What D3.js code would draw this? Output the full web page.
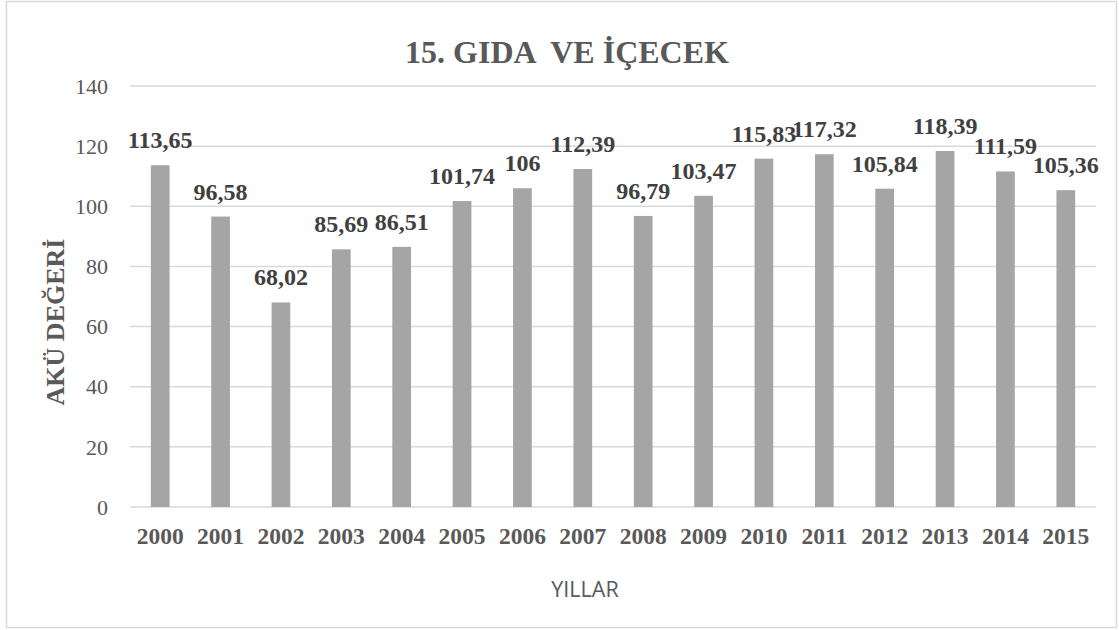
<!DOCTYPE html>
<html>
<head>
<meta charset="utf-8">
<script src="https://cdn.jsdelivr.net/npm/d3@7"></script>
<style>
  body { margin: 0; background: #fff; }
  text { font-family: "Liberation Serif", "Times New Roman", serif; }
</style>
</head>
<body>
<div id="chart"></div>
<script>
// data
var years = ["2000", "2001", "2002", "2003", "2004", "2005", "2006", "2007",
             "2008", "2009", "2010", "2011", "2012", "2013", "2014", "2015"];
var values = [113.65, 96.58, 68.02, 85.69, 86.51, 101.74, 106, 112.39,
              96.79, 103.47, 115.83, 117.32, 105.84, 118.39, 111.59, 105.36];
var yTicks = [0, 20, 40, 60, 80, 100, 120, 140];

var width = 1119, height = 630;
var margin = { top: 86, right: 23, bottom: 123, left: 130 };

var svg = d3.select("#chart")
  .append("svg")
    .attr("width", width)
    .attr("height", height);

// outer border
svg.append("rect")
  .attr("x", 6.5).attr("y", 1.5)
  .attr("width", 1110).attr("height", 626)
  .attr("fill", "#fff")
  .attr("stroke", "#d9d9d9")
  .attr("stroke-width", 1.5);

var x = d3.scaleBand()
  .domain(years)
  .range([margin.left, width - margin.right])
  .paddingInner(0.69)
  .paddingOuter(0.345);

var y = d3.scaleLinear()
  .domain([0, 140])
  .range([height - margin.bottom, margin.top]);

// gridlines
svg.append("g")
  .selectAll("line")
  .data(yTicks)
  .join("line")
    .attr("x1", margin.left)
    .attr("x2", width - margin.right)
    .attr("y1", d => y(d))
    .attr("y2", d => y(d))
    .attr("stroke", "#d9d9d9")
    .attr("stroke-width", 1.5);

// y tick labels
svg.append("g")
  .selectAll("text")
  .data(yTicks)
  .join("text")
    .attr("x", 108)
    .attr("y", d => y(d))
    .attr("dy", "0.35em")
    .attr("text-anchor", "end")
    .attr("font-size", 22)
    .attr("fill", "#595959")
    .text(d => d);

// bars
svg.append("g")
  .selectAll("rect")
  .data(values)
  .join("rect")
    .attr("x", (d, i) => x(years[i]))
    .attr("y", d => y(d))
    .attr("width", x.bandwidth())
    .attr("height", d => y(0) - y(d))
    .attr("fill", "#a5a5a5");

// value labels
svg.append("g")
  .selectAll("text")
  .data(values)
  .join("text")
    .attr("x", (d, i) => x(years[i]) + x.bandwidth() / 2)
    .attr("y", d => y(d) - 17)
    .attr("text-anchor", "middle")
    .attr("font-size", 24)
    .attr("font-weight", "bold")
    .attr("fill", "#404040")
    .text(d => String(d).replace(".", ","));

// x labels
svg.append("g")
  .selectAll("text")
  .data(years)
  .join("text")
    .attr("x", d => x(d) + x.bandwidth() / 2)
    .attr("y", 544)
    .attr("text-anchor", "middle")
    .attr("font-size", 23.5)
    .attr("font-weight", "bold")
    .attr("fill", "#595959")
    .text(d => d);

// title
svg.append("text")
  .attr("x", 567)
  .attr("y", 63)
  .attr("text-anchor", "middle")
  .attr("font-size", 32)
  .attr("font-weight", "bold")
  .attr("fill", "#595959")
  .style("white-space", "pre")
  .text("15. GIDA  VE İÇECEK");

// x axis title
svg.append("text")
  .attr("x", 585)
  .attr("y", 597)
  .attr("text-anchor", "middle")
  .attr("font-size", 21.5)
  .attr("fill", "#595959")
  .style("font-family", "'Open Sans', 'Noto Sans', sans-serif")
  .text("YILLAR");

// y axis title
svg.append("text")
  .attr("transform", "translate(64,322) rotate(-90)")
  .attr("text-anchor", "middle")
  .attr("font-size", 26)
  .attr("font-weight", "bold")
  .attr("fill", "#595959")
  .text("AKÜ DEĞERİ");
</script>
</body>
</html>
